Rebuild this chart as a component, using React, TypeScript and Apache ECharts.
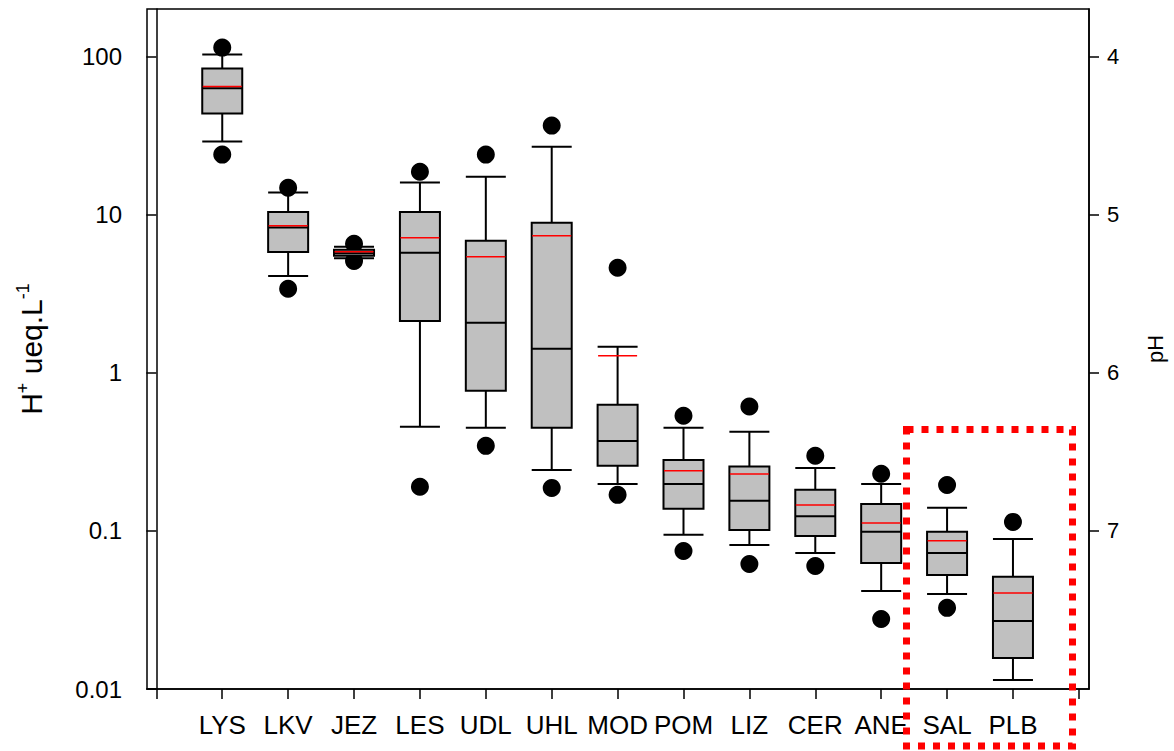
import React, { useEffect, useRef } from "react";
import * as echarts from "echarts";

const categories = ["LYS", "LKV", "JEZ", "LES", "UDL", "UHL", "MOD", "POM", "LIZ", "CER", "ANE", "SAL", "PLB"];
// percentiles of H+ (ueq/L)
const p5 = [24, 3.4, 5.1, 0.19, 0.345, 0.187, 0.169, 0.0747, 0.0618, 0.06, 0.0277, 0.0326, null];
const p10 = [29, 4.1, 5.3, 0.455, 0.449, 0.243, 0.198, 0.0944, 0.0815, 0.0726, 0.0417, 0.0399, 0.0114];
const q1 = [43.6, 5.8, 5.5, 2.13, 0.77, 0.449, 0.258, 0.138, 0.1015, 0.093, 0.0627, 0.0527, 0.0157];
const median = [63, 8.3, 5.7, 5.75, 2.07, 1.42, 0.371, 0.198, 0.155, 0.124, 0.0986, 0.0726, 0.0269];
const q3 = [84, 10.4, 6.0, 10.4, 6.85, 8.9, 0.627, 0.281, 0.255, 0.182, 0.148, 0.0986, 0.0512];
const p90 = [103, 13.8, 6.27, 16.0, 17.4, 26.9, 1.46, 0.449, 0.423, 0.25, 0.198, 0.14, 0.0889];
const p95 = [114, 14.8, 6.55, 18.7, 24, 36.6, 4.62, 0.535, 0.612, 0.299, 0.23, 0.195, 0.114];
const mean = [64.6, 8.5, 5.83, 7.15, 5.42, 7.36, 1.28, 0.24, 0.229, 0.146, 0.112, 0.0865, 0.0405];

const xTickValues = [0, 1, 2, 3, 4, 5, 6, 7, 8, 9, 10, 11, 12, 13, 14];
const xLabelValues = [1, 2, 3, 4, 5, 6, 7, 8, 9, 10, 11, 12, 13];
const yTickValues = [0.01, 0.1, 1, 10, 100];
const yTickLabels = ["0.01", "0.1", "1", "10", "100"];
const pHTickValues = [4, 5, 6, 7];

const Y_MIN = 0.01;
const Y_MAX = 200;

const FONT = "'Liberation Sans', Arial, sans-serif";

export default function App() {
  const ref = useRef<HTMLDivElement>(null);

  useEffect(() => {
    if (!ref.current) return;
    const chart = echarts.init(ref.current, null, { renderer: "svg" });

    const boxData = categories.map((_, i) => [i + 1, p10[i], q1[i], median[i], q3[i], p90[i]]);
    const dotData: number[][] = [];
    categories.forEach((_, i) => {
      if (p95[i] != null) dotData.push([i + 1, p95[i] as number]);
      if (p5[i] != null) dotData.push([i + 1, p5[i] as number]);
    });
    const meanData = categories.map((_, i) => [i + 1, mean[i]]);

    const axisLineStyle = { color: "#000", width: 1.5 };

    const option: any = {
      animation: false,
      textStyle: { fontFamily: FONT },
      grid: {
        left: 147,
        right: 82,
        top: 9,
        bottom: 62,
        show: true,
        borderColor: "#000",
        borderWidth: 1.5,
        backgroundColor: "transparent",
      },
      xAxis: {
        type: "value",
        min: -0.142,
        max: 14.154,
        splitLine: { show: false },
        axisLine: { show: true, onZero: false, lineStyle: axisLineStyle },
        axisTick: { show: true, length: 10, lineStyle: axisLineStyle, customValues: xTickValues },
        axisLabel: {
          customValues: xLabelValues,
          formatter: (v: number) => categories[Math.round(v) - 1] ?? "",
          fontSize: 26,
          color: "#000",
          fontFamily: FONT,
          margin: 23,
        },
      },
      yAxis: [
        {
          type: "log",
          logBase: 10,
          min: Y_MIN,
          max: Y_MAX,
          position: "left",
          name: "{b|H}{sup|+}{b| ueq.L}{sup|-1}",
          nameLocation: "middle",
          nameRotate: 90,
          nameGap: 99,
          nameTextStyle: {
            color: "#000",
            rich: {
              b: { fontSize: 30, fontFamily: FONT, color: "#000", lineHeight: 34 },
              sup: { fontSize: 18, fontFamily: FONT, color: "#000", verticalAlign: "top", lineHeight: 34 },
            },
          },
          splitLine: { show: false },
          minorTick: { show: false },
          axisLine: { show: true, lineStyle: axisLineStyle },
          axisTick: { show: true, length: 10, lineStyle: axisLineStyle, customValues: yTickValues },
          axisLabel: {
            customValues: yTickValues,
            formatter: (v: number) => yTickLabels[Math.round(Math.log10(v)) + 2] ?? "",
            fontSize: 24,
            color: "#000",
            fontFamily: FONT,
            margin: 25,
          },
        },
        {
          type: "value",
          inverse: true,
          min: 6 - Math.log10(Y_MAX),
          max: 6 - Math.log10(Y_MIN),
          position: "right",
          name: "pH",
          nameLocation: "middle",
          nameRotate: 90,
          nameGap: 55,
          nameTextStyle: { fontSize: 22, color: "#000", fontFamily: FONT },
          splitLine: { show: false },
          axisLine: { show: true, lineStyle: axisLineStyle },
          axisTick: { show: true, length: 10, lineStyle: axisLineStyle, customValues: pHTickValues },
          axisLabel: {
            customValues: pHTickValues,
            fontSize: 22,
            color: "#000",
            fontFamily: FONT,
            margin: 18,
          },
        },
      ],
      series: [
        {
          type: "scatter",
          xAxisIndex: 0,
          yAxisIndex: 0,
          symbol: "circle",
          symbolSize: 18,
          itemStyle: { color: "#000", opacity: 1 },
          data: dotData,
          silent: true,
        },
        {
          type: "boxplot",
          xAxisIndex: 0,
          yAxisIndex: 0,
          layout: "horizontal",
          boxWidth: [40, 40],
          itemStyle: { color: "#C0C0C0", borderColor: "#000", borderWidth: 2 },
          data: boxData,
          silent: true,
        },
        {
          type: "scatter",
          xAxisIndex: 0,
          yAxisIndex: 0,
          symbol: "rect",
          symbolSize: [39, 1.5],
          itemStyle: { color: "#FF0000", opacity: 1 },
          data: meanData,
          silent: true,
        },
      ],
      graphic: [
        {
          type: "rect",
          z: 100,
          shape: { x: 906.5, y: 429.5, width: 166, height: 316.5 },
          style: { fill: "none", stroke: "#FF0000", lineWidth: 7, lineDash: [7, 8] },
          silent: true,
        },
      ],
    };

    chart.setOption(option);
    return () => chart.dispose();
  }, []);

  return (
    <div
      ref={ref}
      style={{ position: "fixed", left: 0, top: 0, width: 1174, height: 751, background: "#fff" }}
    />
  );
}
